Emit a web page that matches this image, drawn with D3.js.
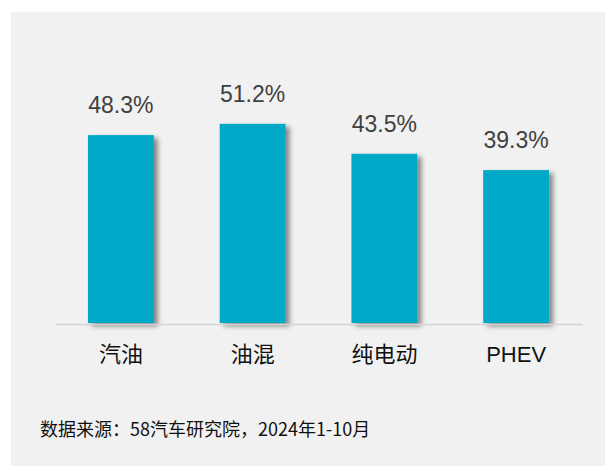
<!DOCTYPE html>
<html>
<head>
<meta charset="utf-8">
<script src="https://cdn.jsdelivr.net/npm/d3@7"></script>
<style>
  html, body { margin: 0; padding: 0; background: #ffffff; }
  svg { display: block; }
</style>
</head>
<body>
<script>
const categories = ["汽油", "油混", "纯电动", "PHEV"];
const values = [48.3, 51.2, 43.5, 39.3];
const valueLabels = ["48.3%", "51.2%", "43.5%", "39.3%"];
const sourceText = "数据来源：58汽车研究院，2024年1-10月";

const W = 605, H = 466;
const svg = d3.select("body").append("svg").attr("width", W).attr("height", H);

const defs = svg.append("defs");
const f = defs.append("filter").attr("id", "shadow")
  .attr("x", "-20%").attr("y", "-10%").attr("width", "150%").attr("height", "130%");
f.append("feDropShadow").attr("dx", 4).attr("dy", 3).attr("stdDeviation", 2.5)
  .attr("flood-color", "#000").attr("flood-opacity", 0.45);

// panel
svg.append("rect").attr("x", 11).attr("y", 12).attr("width", W - 11).attr("height", H - 12)
  .attr("fill", "#f1f1f1");

const x = d3.scaleBand().domain(categories).range([55, 582]).paddingInner(0.5).paddingOuter(0.25);
const y = d3.scaleLinear().domain([0, 60]).range([323, 323 - 3.89 * 60]);

const latin = "'Liberation Sans', Arial, 'Noto Sans CJK SC', sans-serif";
const cjk = "'Noto Sans CJK SC', 'Liberation Sans', sans-serif";

// bars
svg.append("g").selectAll("rect").data(values).join("rect")
  .attr("x", (d, i) => x(categories[i]))
  .attr("y", d => y(d))
  .attr("width", x.bandwidth())
  .attr("height", d => y(0) - y(d))
  .attr("fill", "#02a9c7")
  .attr("filter", "url(#shadow)");

// axis line
const axis = svg.append("g").attr("transform", `translate(0,${y(0) + 1})`)
  .call(d3.axisBottom(x).tickSize(0).tickPadding(22));
axis.select(".domain").attr("stroke", "#d4d4d4").attr("stroke-width", 1.5);
axis.selectAll(".tick text")
  .attr("font-family", d => /^[A-Za-z]+$/.test(d) ? latin : cjk)
  .attr("font-size", 22)
  .attr("fill", "#111")
  .attr("dy", "0.71em");

// value labels
svg.append("g").selectAll("text").data(values).join("text")
  .attr("x", (d, i) => x(categories[i]) + x.bandwidth() / 2)
  .attr("y", d => y(d) - 22)
  .attr("text-anchor", "middle")
  .attr("font-family", latin)
  .attr("font-size", 23)
  .attr("fill", "#404040")
  .text((d, i) => valueLabels[i]);

// source
svg.append("text").attr("x", 40).attr("y", 436)
  .attr("font-family", cjk).attr("font-size", 18).attr("fill", "#111")
  .text(sourceText);
</script>
</body>
</html>
